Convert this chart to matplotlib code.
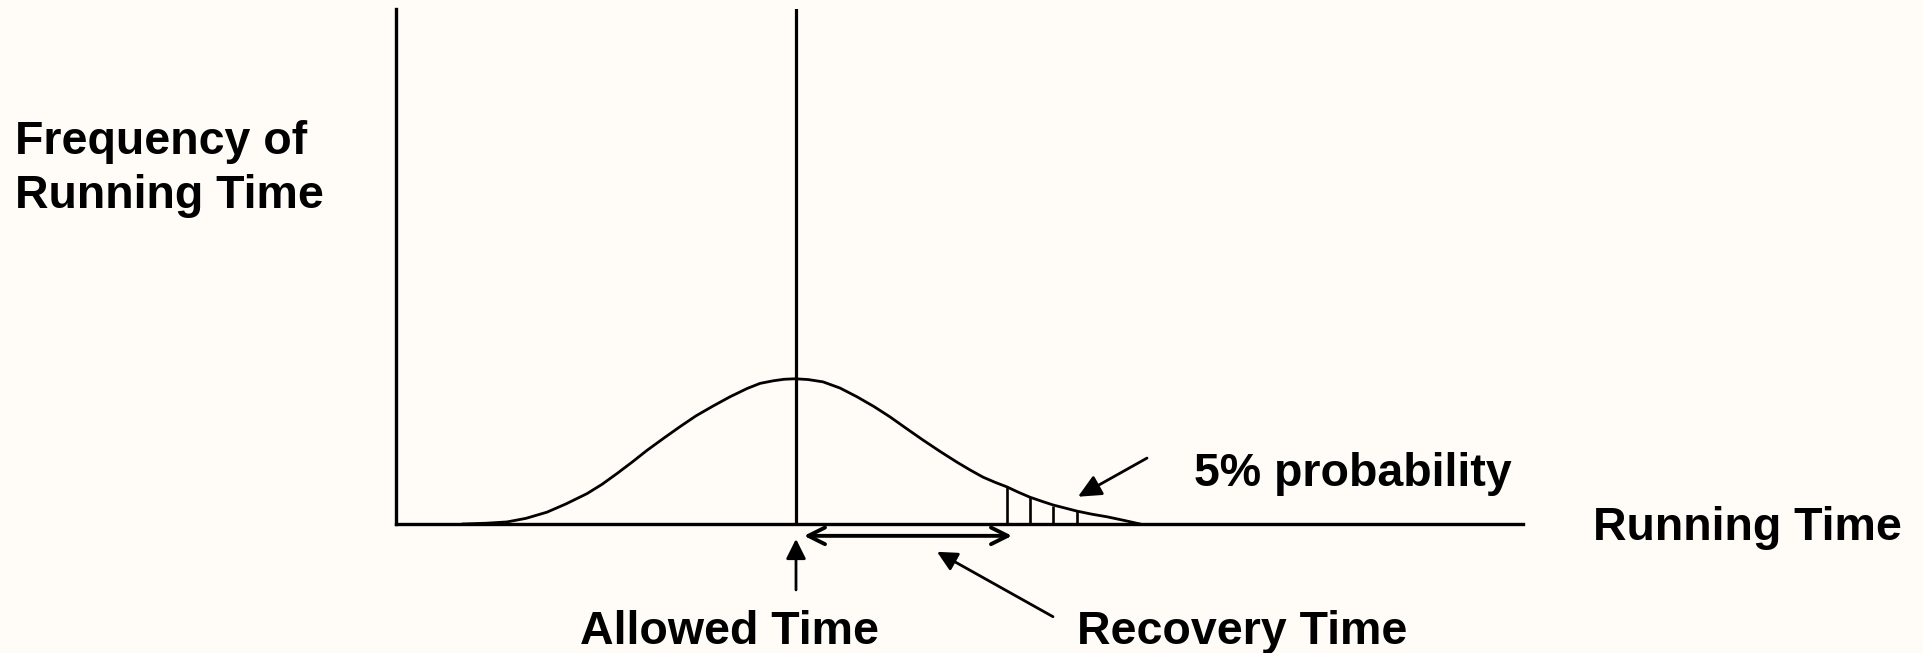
import matplotlib.pyplot as plt
from matplotlib.patches import FancyArrowPatch

# running time (x) vs frequency (y), schematic units
curve_x = [3.35, 4.5, 5.55, 6.5, 7.55, 8.5, 9.55, 10.3, 11.05, 11.8, 12.55, 13.4,
           14.2, 15.0, 15.85, 16.7, 17.55, 18.2, 18.85, 19.4, 19.95, 20.6, 21.35,
           22.2, 23.05, 23.9, 24.7, 25.5, 26.35, 27.2, 28.05, 28.7, 29.35, 29.95,
           30.55, 31.1, 31.7, 32.3, 32.85, 33.45, 34.05, 34.8, 35.55, 36.4, 37.2]
curve_y = [0.0, 0.15, 0.4, 1.1, 2.3, 3.9, 5.9, 7.7, 9.8, 12.0, 14.3, 16.7,
           18.9, 21.0, 22.9, 24.7, 26.3, 27.3, 27.8, 28.1, 28.2, 28.05, 27.6,
           26.4, 24.7, 22.8, 20.8, 18.6, 16.3, 14.1, 12.0, 10.5, 9.1, 8.1,
           7.2, 6.2, 5.2, 4.4, 3.7, 3.1, 2.5, 1.9, 1.4, 0.7, 0.0]

allowed_time = 20.0
recovery_end = 30.8
hatch_x = [30.55, 31.7, 32.85, 34.05]
hatch_top = [7.2, 5.2, 3.4, 2.5]

W, H = 1923, 653
bg = '#fffcf7'
font = ['Liberation Sans', 'DejaVu Sans']
fs = 33.5

fig = plt.figure(figsize=(W / 100, H / 100), dpi=100, facecolor=bg)
ax = fig.add_axes([396 / W, (H - 524) / H, (1523 - 396) / W, (524 - 9) / H])
ax.set_facecolor(bg)
ax.set_xlim(0, 56.35)
ax.set_ylim(0, 100)
for s in ['top', 'right']:
    ax.spines[s].set_visible(False)
for s in ['left', 'bottom']:
    ax.spines[s].set_linewidth(2.4)
ax.set_xticks([])
ax.set_yticks([])

# distribution curve
ax.plot(curve_x, curve_y, color='black', lw=2.0, solid_joinstyle='round')

# allowed time line
ax.axvline(allowed_time, color='black', lw=2.3)

# 5% tail hatching
ax.vlines(hatch_x, 0, hatch_top, color='black', lw=1.9)


def arrow(start, end, style, lw=2.0):
    p = FancyArrowPatch(start, end, arrowstyle=style, mutation_scale=20,
                        color='black', lw=lw, shrinkA=0, shrinkB=0)
    ax.add_patch(p)
    p.set_clip_on(False)


# recovery time span
arrow((allowed_time + 0.4, -2.3), (recovery_end, -2.3), '<->,head_length=0.6,head_width=0.3', lw=2.8)
# pointer up to allowed time
arrow((allowed_time, -12.8), (allowed_time, -2.9), '-|>,head_length=0.6,head_width=0.3')
# pointer to recovery span
arrow((32.85, -18.0), (27.05, -5.4), '-|>,head_length=0.6,head_width=0.3')
# pointer to 5% tail
arrow((37.55, 12.8), (34.1, 5.3), '-|>,head_length=0.7,head_width=0.33')


def label(x, y, s, ha='left'):
    fig.text(x / W, 1 - y / H, s, ha=ha, va='baseline', fontsize=fs,
             fontweight='bold', family=font)


label(15, 153.5, 'Frequency of')
label(15, 208.5, 'Running Time')
label(1593, 540.5, 'Running Time')
label(1194, 486, '5% probability')
label(730, 644, 'Allowed Time', ha='center')
label(1242, 644, 'Recovery Time', ha='center')

fig.savefig('out.png', dpi=100, facecolor=bg)
